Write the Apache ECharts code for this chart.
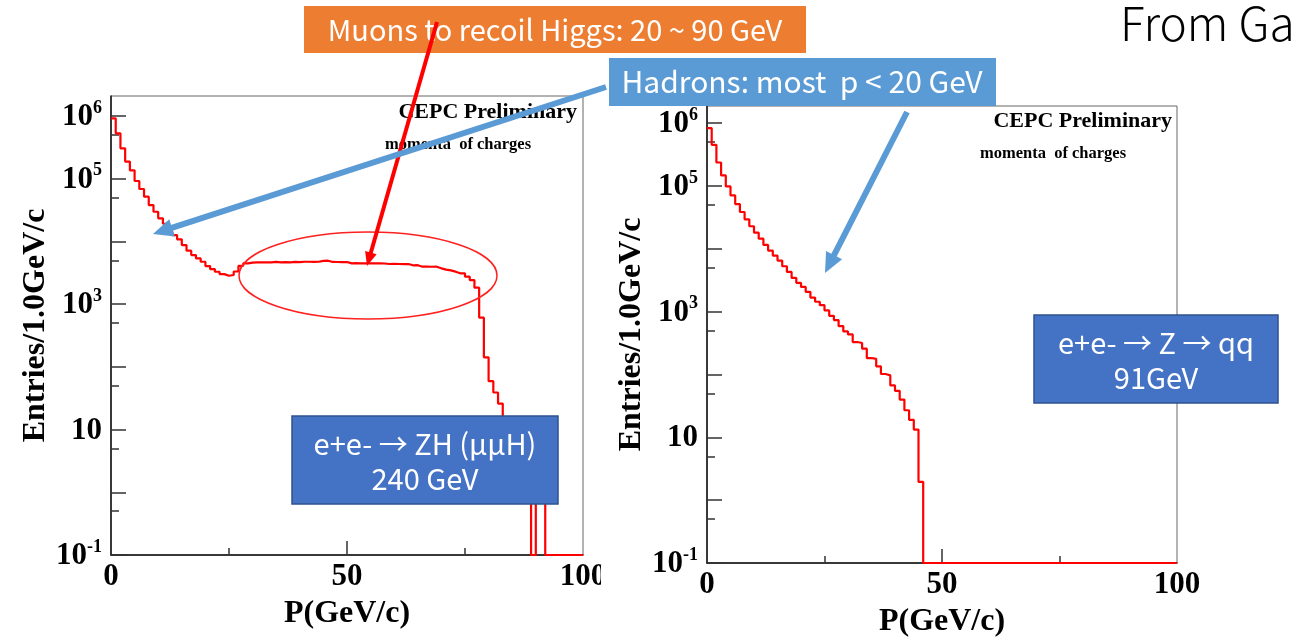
<!DOCTYPE html>
<html><head><meta charset="utf-8">
<script src="https://cdn.jsdelivr.net/npm/echarts@6/dist/echarts.min.js"></script>
<style>html,body{margin:0;padding:0;background:#fff}#c{width:1294px;height:643px}</style>
</head><body><div id="c"></div>
<script>
// ---- data (1 GeV/c bins, lower edges 0..99) ----
const binLow = Array.from({length: 100}, (_, i) => i);
const zhCounts = [
  918000, 528000, 305000, 187000, 136000, 91800, 68400, 51600, 38000, 29700,
  23300, 19100, 14300, 12600, 10800, 8740, 7100, 6050, 5350, 4740,
  4040, 3620, 3280, 3010, 2830, 2910, 3310, 4060, 4450, 4600,
  4640, 4620, 4650, 4640, 4700, 4640, 4660, 4640, 4700, 4680,
  4740, 4740, 4720, 4740, 4900, 4920, 4700, 4690, 4680, 4690,
  4470, 4500, 4470, 4480, 4450, 4470, 4460, 4440, 4360, 4370,
  4360, 4340, 4360, 4160, 4170, 3950, 3960, 3940, 3950, 3720,
  3550, 3450, 3290, 3100, 3100, 2740, 2420, 1830, 607, 142,
  59, 39, 26, 12, 8, 5, 3, 2, 1, 0,
  1, 1, 0, 0, 0, 0, 0, 0, 0, 0
];
const zqqCounts = [
  834000, 453000, 237000, 147500, 98700, 71000, 51700, 38600, 29500, 22900,
  18100, 14550, 11540, 9380, 7810, 6510, 5290, 4300, 3450, 2880,
  2480, 2070, 1680, 1440, 1270, 1047, 861, 735, 590, 485,
  435, 329, 317, 258, 183, 177, 135, 102, 97, 67,
  55, 40, 27, 19, 13.3, 1.96, 0, 0, 0, 0,
  0, 0, 0, 0, 0, 0, 0, 0, 0, 0,
  0, 0, 0, 0, 0, 0, 0, 0, 0, 0,
  0, 0, 0, 0, 0, 0, 0, 0, 0, 0,
  0, 0, 0, 0, 0, 0, 0, 0, 0, 0,
  0, 0, 0, 0, 0, 0, 0, 0, 0, 0
];
const yLabelValues = [0.1, 10, 1e3, 1e5, 1e6];
const yMajorTicks = [0.1, 1, 10, 100, 1e3, 1e4, 1e5, 1e6];
const yMinorTicks = [0.5, 5, 50, 500, 5e3, 5e4, 5e5];
const xLabelValues = [0, 50, 100];
const xMajorTicks = [50];
const xMinorTicks = [25, 75];
const xTitle = 'P(GeV/c)';
const yTitle = 'Entries/1.0GeV/c';
const Y_MIN = 0.1;

function histData(counts) {
  const d = binLow.map((x, i) => [x, Math.max(counts[i], Y_MIN)]);
  d.push([100, Math.max(counts[counts.length - 1], Y_MIN)]);
  return d;
}
function yFmt(v) {
  const e = Math.round(Math.log10(v));
  return e === 1 ? '{b|10}' : '{b|10}{s|' + e + '}';
}
const serif = '"Liberation Serif", "Times New Roman", serif';
const sans = '"Noto Sans CJK SC", "Noto Sans", sans-serif';
const labelRich = {
  b: {fontFamily: serif, fontWeight: 'bold', fontSize: 31, color: '#000', lineHeight: 34, padding: [8, 0, 6, 0]},
  s: {fontFamily: serif, fontWeight: 'bold', fontSize: 18, color: '#000', lineHeight: 20, verticalAlign: 'top'}
};

function axesFor(gi, ymax) {
  const xMain = {
    gridIndex: gi, type: 'value', min: 0, max: 100, position: 'bottom',
    axisLine: {show: true, lineStyle: {color: '#111', width: 1.5}},
    axisTick: {show: true, inside: true, length: 14, customValues: xMajorTicks, lineStyle: {color: '#333', width: 1.5}},
    axisLabel: {show: true, customValues: xLabelValues, margin: 6, fontFamily: serif, fontWeight: 'bold', fontSize: 31, color: '#000'},
    splitLine: {show: false},
    name: xTitle, nameLocation: 'middle', nameGap: 43,
    nameTextStyle: {fontFamily: serif, fontWeight: 'bold', fontSize: 32, color: '#000'}
  };
  const xMinor = {
    gridIndex: gi, type: 'value', min: 0, max: 100, position: 'bottom',
    axisLine: {show: false},
    axisTick: {show: true, inside: true, length: 7, customValues: xMinorTicks, lineStyle: {color: '#333', width: 1.5}},
    axisLabel: {show: false}, splitLine: {show: false}
  };
  const yMain = {
    gridIndex: gi, type: 'log', logBase: 10, min: Y_MIN, max: ymax, position: 'left',
    axisLine: {show: true, lineStyle: {color: '#111', width: 1.5}},
    axisTick: {show: true, inside: true, length: 15, customValues: yMajorTicks, lineStyle: {color: '#333', width: 1.5}},
    axisLabel: {show: true, customValues: yLabelValues, margin: 9, formatter: yFmt, rich: labelRich},
    splitLine: {show: false},
    name: yTitle, nameLocation: 'middle', nameGap: 57,
    nameTextStyle: {fontFamily: serif, fontWeight: 'bold', fontSize: 32, color: '#000'}
  };
  const yMinor = {
    gridIndex: gi, type: 'log', logBase: 10, min: Y_MIN, max: ymax, position: 'left',
    axisLine: {show: false},
    axisTick: {show: true, inside: true, length: 8, customValues: yMinorTicks, lineStyle: {color: '#333', width: 1.5}},
    axisLabel: {show: false}, splitLine: {show: false}
  };
  return {x: [xMain, xMinor], y: [yMain, yMinor]};
}
const a0 = axesFor(0, 2.08e6);
const a1 = axesFor(1, 1.88e6);

function arrow(x1, y1, x2, y2, color, lw, headL, headW) {
  const dx = x2 - x1, dy = y2 - y1, len = Math.hypot(dx, dy);
  const ux = dx / len, uy = dy / len, nx = -uy, ny = ux;
  const bx = x2 - ux * headL, by = y2 - uy * headL;
  return [
    {type: 'line', z: 120, shape: {x1: x1, y1: y1, x2: bx + ux * 2, y2: by + uy * 2}, style: {stroke: color, lineWidth: lw}},
    {type: 'polygon', z: 121, shape: {points: [[x2, y2], [bx + nx * headW / 2, by + ny * headW / 2], [bx - nx * headW / 2, by - ny * headW / 2]]}, style: {fill: color}}
  ];
}
function txt(text, x, y, font, fill, align) {
  return {type: 'text', z: 115, style: {text: text, x: x, y: y, font: font, fill: fill,
    align: align || 'center', verticalAlign: 'middle', textAlign: align || 'center', textVerticalAlign: 'middle'}};
}
function box(x, y, w, h, fill, stroke) {
  return {type: 'rect', z: 110, shape: {x: x, y: y, width: w, height: h},
    style: {fill: fill, stroke: stroke || null, lineWidth: stroke ? 1.5 : 0}};
}

const graphics = [
  {type: 'rect', z: 105, shape: {x: 601, y: 565, width: 40, height: 42}, style: {fill: '#fff'}},
  txt('CEPC Preliminary', 577, 112, 'bold 22px ' + serif, '#000', 'right'),
  txt('momenta  of charges', 458, 145, 'bold 16.5px ' + serif, '#000'),
  txt('CEPC Preliminary', 1172, 121, 'bold 22px ' + serif, '#000', 'right'),
  txt('momenta  of charges', 1053, 154, 'bold 16.5px ' + serif, '#000'),
  {type: 'ellipse', z: 112, shape: {cx: 368, cy: 275.5, rx: 129, ry: 43.5}, style: {fill: 'none', stroke: '#ff2020', lineWidth: 1.5}},
  box(304, 6, 502, 47, '#ED7D31'),
  txt('Muons to recoil Higgs: 20 ~ 90 GeV', 555, 30, '29px ' + sans, '#fff'),
  box(609, 58, 387, 48, '#5B9BD5'),
  txt('Hadrons: most  p < 20 GeV', 802, 82, '30px ' + sans, '#fff'),
  txt('From Ga', 1120, 24, '300 46px ' + sans, '#000', 'left'),
  box(292, 416, 266, 88, '#4472C4', '#2F528F'),
  {type: 'text', z: 115, style: {text: 'e+e- \u2192 ZH (\u03bc\u03bcH)\n240 GeV', x: 425, y: 461, font: '29px ' + sans, fill: '#fff', lineHeight: 35,
    align: 'center', verticalAlign: 'middle', textAlign: 'center', textVerticalAlign: 'middle'}},
  box(1034, 315, 244, 88, '#4472C4', '#2F528F'),
  {type: 'text', z: 115, style: {text: 'e+e- \u2192 Z \u2192 qq\n91GeV', x: 1156, y: 360, font: '29px ' + sans, fill: '#fff', lineHeight: 35,
    align: 'center', verticalAlign: 'middle', textAlign: 'center', textVerticalAlign: 'middle'}}
].concat(
  arrow(437, 22, 367, 266, '#ff0000', 4, 14, 12),
  arrow(606, 87, 153, 234, '#5B9BD5', 6, 20, 18),
  arrow(907, 112, 825, 273, '#5B9BD5', 6, 20, 18)
);

const chart = echarts.init(document.getElementById('c'), null, {renderer: 'canvas'});
chart.setOption({
  animation: false,
  backgroundColor: '#fff',
  grid: [
    {left: 111, top: 96, width: 472, height: 459, show: true, borderColor: '#666', borderWidth: 1, backgroundColor: 'transparent'},
    {left: 707, top: 106, width: 470, height: 458, show: true, borderColor: '#666', borderWidth: 1, backgroundColor: 'transparent'}
  ],
  xAxis: a0.x.concat(a1.x),
  yAxis: a0.y.concat(a1.y),
  series: [
    {type: 'line', xAxisIndex: 0, yAxisIndex: 0, step: 'end', data: histData(zhCounts), showSymbol: false, symbol: 'none', clip: false,
      lineStyle: {color: '#ff0000', width: 2.2}, z: 5},
    {type: 'line', xAxisIndex: 2, yAxisIndex: 2, step: 'end', data: histData(zqqCounts), showSymbol: false, symbol: 'none', clip: false,
      lineStyle: {color: '#ff0000', width: 2.2}, z: 5}
  ],
  graphic: {elements: graphics}
});
</script></body></html>
